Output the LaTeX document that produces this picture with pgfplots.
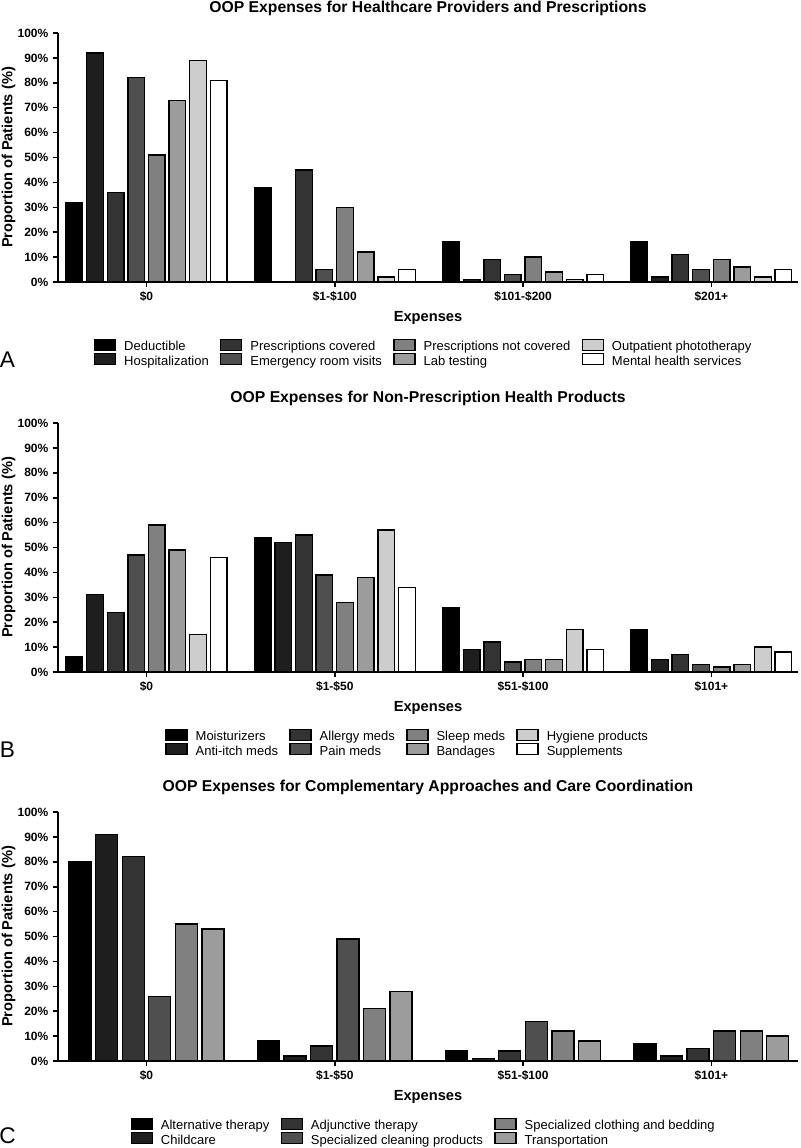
\documentclass[border=0pt]{standalone}
\usepackage{pgfplots}
\pgfplotsset{compat=1.18}
\usepackage{fontspec}
\setmainfont{Liberation Sans}

\definecolor{g1}{HTML}{000000}
\definecolor{g2}{HTML}{1E1E1E}
\definecolor{g3}{HTML}{333333}
\definecolor{g4}{HTML}{4F4F4F}
\definecolor{g5}{HTML}{808080}
\definecolor{g6}{HTML}{9C9C9C}
\definecolor{g7}{HTML}{CDCDCD}
\definecolor{g8}{HTML}{FFFFFF}

\pgfplotsset{
  oopbase/.style={
    scale only axis, width=555pt, height=186.75pt,
    anchor=south west,
    ymin=0, ymax=100, xmin=-0.47, xmax=3.46,
    axis x line*=bottom, axis y line*=left,
    axis line style={line width=1.5pt, black},
    tick align=outside, major tick length=3.75pt,
    tick style={line width=1.2pt, black},
    ytick={0,10,...,100},
    yticklabels={0\%,10\%,20\%,30\%,40\%,50\%,60\%,70\%,80\%,90\%,100\%},
    xtick={0,1,2,3},
    ticklabel style={font=\bfseries\fontsize{9}{10}\selectfont},
    title style={font=\bfseries\fontsize{11.8}{14}\selectfont, at={(axis description cs:0.5,1)}, anchor=base, yshift=9.4pt},
    xlabel={Expenses}, ylabel={Proportion of Patients (\%)},
    label style={font=\bfseries\fontsize{11}{13}\selectfont},
    xlabel style={at={(axis description cs:0.5,0)}, anchor=center, yshift=-27pt},
    ylabel style={at={(axis description cs:-0.0667,0.5)}, anchor=center},
    legend style={at={(axis description cs:0.5,0)}, anchor=north, yshift=-42.25pt, xshift=-4pt,
      draw=none, fill=none, inner sep=0pt,
      font=\fontsize{9.75}{11.25}\selectfont,
      nodes={inner sep=0pt, text height=8pt, text depth=2pt},
      row sep=0pt,
      /tikz/every odd column/.append style={column sep=6pt},
      /tikz/every even column/.append style={column sep=8.5pt}},
    legend cell align=left,
    legend columns=2, transpose legend,
  },
  barA/.style={fill=#1, draw=black, line width=1pt,
    legend image code/.code={\draw[fill=#1, draw=black, line width=1pt] (0pt,-2.85pt) rectangle (15.75pt,5.4pt);}},
}

\begin{document}
\begin{tikzpicture}
\path[use as bounding box] (0,0) rectangle (600pt,-861pt);

% ---------------- Panel A
\begin{axis}[oopbase, at={(43.5pt,-211.5pt)},
  title={OOP Expenses for Healthcare Providers and Prescriptions},
  xticklabels={\$0,\$1-\$100,\$101-\$200,\$201+},
  ybar=2.95pt, bar width=12.5pt]
\addplot[barA=g1] coordinates {(0,32) (1,38) (2,16) (3,16)};
\addlegendentry{Deductible}
\addplot[barA=g2] coordinates {(0,92) (1,0) (2,1) (3,2)};
\addlegendentry{Hospitalization}
\addplot[barA=g3] coordinates {(0,36) (1,45) (2,9) (3,11)};
\addlegendentry{Prescriptions covered}
\addplot[barA=g4] coordinates {(0,82) (1,5) (2,3) (3,5)};
\addlegendentry{Emergency room visits}
\addplot[barA=g5] coordinates {(0,51) (1,30) (2,10) (3,9)};
\addlegendentry{Prescriptions not covered}
\addplot[barA=g6] coordinates {(0,73) (1,12) (2,4) (3,6)};
\addlegendentry{Lab testing}
\addplot[barA=g7] coordinates {(0,89) (1,2) (2,1) (3,2)};
\addlegendentry{Outpatient phototherapy}
\addplot[barA=g8] coordinates {(0,81) (1,5) (2,3) (3,5)};
\addlegendentry{Mental health services}
\end{axis}

% ---------------- Panel B
\begin{axis}[oopbase, at={(43.5pt,-504pt)},
  title={OOP Expenses for Non-Prescription Health Products},
  xticklabels={\$0,\$1-\$50,\$51-\$100,\$101+},
  legend style={xshift=-12pt},
  ybar=2.95pt, bar width=12.5pt]
\addplot[barA=g1] coordinates {(0,6) (1,54) (2,26) (3,17)};
\addlegendentry{Moisturizers}
\addplot[barA=g2] coordinates {(0,31) (1,52) (2,9) (3,5)};
\addlegendentry{Anti-itch meds}
\addplot[barA=g3] coordinates {(0,24) (1,55) (2,12) (3,7)};
\addlegendentry{Allergy meds}
\addplot[barA=g4] coordinates {(0,47) (1,39) (2,4) (3,3)};
\addlegendentry{Pain meds}
\addplot[barA=g5] coordinates {(0,59) (1,28) (2,5) (3,2)};
\addlegendentry{Sleep meds}
\addplot[barA=g6] coordinates {(0,49) (1,38) (2,5) (3,3)};
\addlegendentry{Bandages}
\addplot[barA=g7] coordinates {(0,15) (1,57) (2,17) (3,10)};
\addlegendentry{Hygiene products}
\addplot[barA=g8] coordinates {(0,46) (1,34) (2,9) (3,8)};
\addlegendentry{Supplements}
\end{axis}

% ---------------- Panel C
\begin{axis}[oopbase, at={(43.5pt,-795.75pt)},
  title={OOP Expenses for Complementary Approaches and Care Coordination},
  xticklabels={\$0,\$1-\$50,\$51-\$100,\$101+},
  ybar=3.4pt, bar width=16.5pt]
\addplot[barA=g1] coordinates {(0,80) (1,8) (2,4) (3,7)};
\addlegendentry{Alternative therapy}
\addplot[barA=g2] coordinates {(0,91) (1,2) (2,1) (3,2)};
\addlegendentry{Childcare}
\addplot[barA=g3] coordinates {(0,82) (1,6) (2,4) (3,5)};
\addlegendentry{Adjunctive therapy}
\addplot[barA=g4] coordinates {(0,26) (1,49) (2,16) (3,12)};
\addlegendentry{Specialized cleaning products}
\addplot[barA=g5] coordinates {(0,55) (1,21) (2,12) (3,12)};
\addlegendentry{Specialized clothing and bedding}
\addplot[barA=g6] coordinates {(0,53) (1,28) (2,8) (3,10)};
\addlegendentry{Transportation}
\end{axis}

\node[font=\fontsize{17}{17}\selectfont, anchor=center] at (5.6pt,-270pt) {A};
\node[font=\fontsize{17}{17}\selectfont, anchor=center] at (5.6pt,-562.5pt) {B};
\node[font=\fontsize{17}{17}\selectfont, anchor=center] at (5.6pt,-851.5pt) {C};
\end{tikzpicture}
\end{document}
